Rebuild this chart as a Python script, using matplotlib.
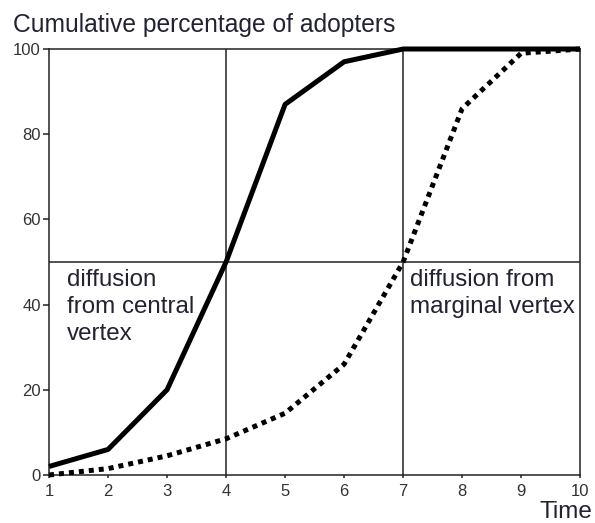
import matplotlib
matplotlib.use("Agg")
import matplotlib.pyplot as plt

plt.rcParams['font.family'] = ['Liberation Sans', 'DejaVu Sans']

# data
time = [1, 2, 3, 4, 5, 6, 7, 8, 9, 10]
central = [2, 6, 20, 50, 87, 97, 100, 100, 100, 100]
marginal = [0, 1.5, 4.5, 8.5, 14.5, 26, 50, 86, 99, 100]
x_ticks = [1, 2, 3, 4, 5, 6, 7, 8, 9, 10]
y_ticks = [0, 20, 40, 60, 80, 100]
grid_x = [4, 7]
grid_y = [50]

fig = plt.figure(figsize=(5.95, 5.23), dpi=100)
ax = fig.add_axes([0.0824, 0.0918, 0.8926, 0.8145])

frame_col = '#222222'
for x in grid_x:
    ax.axvline(x, color=frame_col, lw=1.1, zorder=1)
for y in grid_y:
    ax.axhline(y, color=frame_col, lw=1.1, zorder=1)

ax.plot(time, central, color='black', lw=3.6, solid_capstyle='butt',
        clip_on=False, zorder=3)
ax.plot(time, marginal, color='black', lw=3.6, linestyle=(0, (1, 1)),
        dash_capstyle='butt', clip_on=False, zorder=3)

ax.set_xlim(1, 10)
ax.set_ylim(0, 100)
ax.set_xticks(x_ticks)
ax.set_yticks(y_ticks)
for s in ax.spines.values():
    s.set_color(frame_col)
    s.set_linewidth(1.1)
ax.tick_params(axis='both', colors=frame_col, labelcolor='#333333',
               labelsize=12, width=1.1)
ax.tick_params(axis='y', length=4, pad=2)
ax.tick_params(axis='x', length=2.5, pad=4)

ax.text(1.3, 48.3, 'diffusion\nfrom central\nvertex', fontsize=17.4,
        va='top', ha='left', color='#222233', linespacing=1.3)
ax.text(7.12, 48.3, 'diffusion from\nmarginal vertex', fontsize=17.4,
        va='top', ha='left', color='#222233', linespacing=1.3)

fig.text(0.022, 0.975, 'Cumulative percentage of adopters', fontsize=17.7,
         va='top', ha='left', color='#222233')
fig.text(0.996, 0.01, 'Time', fontsize=17.5, va='baseline', ha='right',
         color='#222233')

fig.savefig('out.png', dpi=100)
